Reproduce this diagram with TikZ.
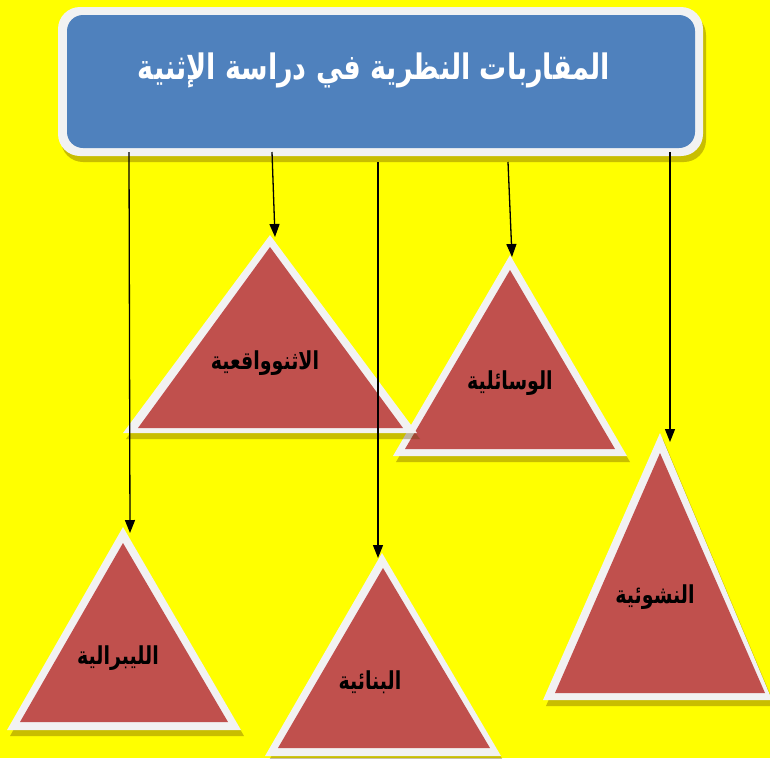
\documentclass[tikz,border=0pt]{standalone}
\usepackage{fontspec}
\newfontfamily\arabicfont[Script=Arabic]{DejaVu Sans}
\TeXXeTstate=1
\usetikzlibrary{arrows.meta}
\definecolor{bgY}{HTML}{FFFF00}
\definecolor{boxB}{HTML}{4F81BD}
\definecolor{triR}{HTML}{C0504D}
\definecolor{rim}{HTML}{F2F2F2}
\definecolor{shd}{HTML}{5A3C00}
\newcommand\tall[1]{\scalebox{1}[1.3]{#1}}
\begin{document}
\begin{tikzpicture}[x=1pt,y=-1pt,
  shadow/.style={fill=shd,fill opacity=0.33},
  rimfill/.style={fill=rim},
  redfill/.style={fill=triR},
  lab/.style={font=\arabicfont\bfseries\fontsize{19}{22}\selectfont, text=black, inner sep=0pt},
  ttl/.style={font=\arabicfont\bfseries\fontsize{27}{32}\selectfont, text=white, inner sep=0pt},
  conn/.style={line width=1.3pt, -{Triangle[length=13pt,width=10pt]}}]
\fill[bgY] (0,0) rectangle (770,758);
\useasboundingbox (0,0) rectangle (770,758);
% title box
\fill[shadow,rounded corners=22pt] (61,13) rectangle (706,162);
\fill[rimfill,rounded corners=22pt] (58,7) rectangle (703,156);
\fill[fill=boxB,rounded corners=16pt] (67,15) rectangle (695,148);
\node[ttl] (title) at (374,70) {\tall{\beginR المقاربات النظرية في دراسة الإثنية\endR}};
% T2
\fill[shadow] (513,261) -- (396,462) -- (630,462) -- cycle;
\fill[rimfill] (510,255) -- (393,456) -- (627,456) -- cycle;
\fill[redfill] (510,270) -- (405,449) -- (615,449) -- cycle;
\coordinate (t2a) at (512,257);
\node[lab] (t2) at (510,383) {\tall{\beginR الوسائلية\endR}};
% T1
\fill[shadow] (273,241) -- (126,439) -- (420,439) -- cycle;
\fill[rimfill] (270,235) -- (123,433) -- (417,433) -- cycle;
\fill[redfill] (270,247) -- (138,428) -- (403,428) -- cycle;
\coordinate (t1a) at (275,237);
\node[lab] (t1) at (265,363) {\tall{\beginR الاثنوواقعية\endR}};
% T3
\fill[shadow] (663,439) -- (546,706) -- (775,706) -- cycle;
\fill[rimfill] (660,433) -- (543,700) -- (772,700) -- cycle;
\fill[redfill] (660,453) -- (555,693) -- (765,693) -- cycle;
\coordinate (t3a) at (670,442);
\node[lab] (t3) at (655,597) {\tall{\beginR النشوئية\endR}};
% T4
\fill[shadow] (126,533) -- (10,736) -- (244,736) -- cycle;
\fill[rimfill] (123,527) -- (7,730) -- (241,730) -- cycle;
\fill[redfill] (123,543) -- (20,722) -- (228,722) -- cycle;
\coordinate (t4a) at (130,533);
\node[lab] (t4) at (118,658) {\tall{\beginR الليبرالية\endR}};
% T5
\fill[shadow] (385,559) -- (268,762) -- (504,762) -- cycle;
\fill[rimfill] (382,553) -- (265,756) -- (501,756) -- cycle;
\fill[redfill] (383,568) -- (278,748) -- (490,748) -- cycle;
\coordinate (t5a) at (378,558);
\node[lab] (t5) at (370,682) {\tall{\beginR البنائية\endR}};
% connector starts
\coordinate (s1) at (129,152);
\coordinate (s2) at (272,152);
\coordinate (s3) at (378,162);
\coordinate (s4) at (508,162);
\coordinate (s5) at (670,152);
\draw[conn] (s1) -- (t4a);
\draw[conn] (s2) -- (t1a);
\draw[conn] (s3) -- (t5a);
\draw[conn] (s4) -- (t2a);
\draw[conn] (s5) -- (t3a);
\end{tikzpicture}
\end{document}
